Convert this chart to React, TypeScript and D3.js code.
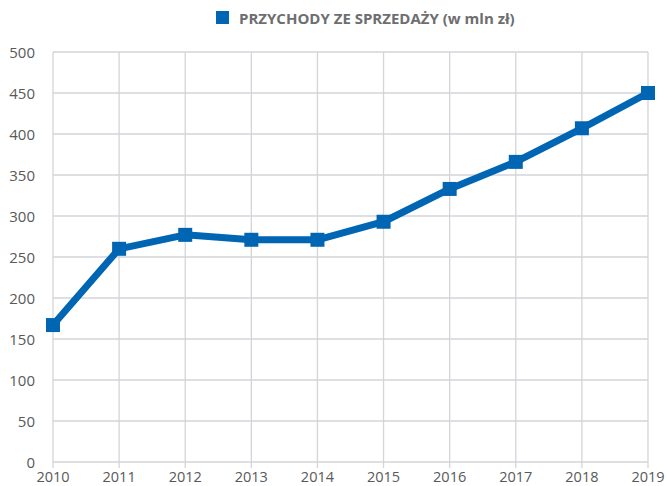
import { useEffect, useRef } from 'react'
import * as d3 from 'd3'

const years = ['2010', '2011', '2012', '2013', '2014', '2015', '2016', '2017', '2018', '2019']
const revenue = [167, 260, 277, 271, 271, 293, 333, 366, 407, 450]
const yTicks = [0, 50, 100, 150, 200, 250, 300, 350, 400, 450, 500]
const seriesName = 'PRZYCHODY ZE SPRZEDAŻY (w mln zł)'

const width = 667
const height = 486
const blue = '#0066b3'

export default function App() {
  const svgRef = useRef<SVGSVGElement>(null)

  useEffect(() => {
    if (!svgRef.current) return
    const svg = d3.select(svgRef.current)
    svg.selectAll('*').remove()

    const x = d3.scalePoint<string>().domain(years).range([53, 648])
    const y = d3.scaleLinear().domain([0, 500]).range([462, 52])

    const font = '"Open Sans", "Noto Sans", sans-serif'

    // grid
    svg.append('g')
      .selectAll('line')
      .data(yTicks)
      .join('line')
      .attr('x1', 53)
      .attr('x2', 648)
      .attr('y1', d => y(d))
      .attr('y2', d => y(d))
      .attr('stroke', '#d3d5d8')
      .attr('stroke-width', 1.3)

    svg.append('g')
      .selectAll('line')
      .data(years)
      .join('line')
      .attr('x1', d => x(d)!)
      .attr('x2', d => x(d)!)
      .attr('y1', 52)
      .attr('y2', 468)
      .attr('stroke', '#d3d5d8')
      .attr('stroke-width', 1.3)

    // y labels
    svg.append('g')
      .selectAll('text')
      .data(yTicks)
      .join('text')
      .attr('x', 35)
      .attr('y', d => y(d) + 5.5)
      .attr('text-anchor', 'end')
      .attr('font-family', font)
      .attr('font-size', 15)
      .attr('fill', '#595959')
      .text(d => d)

    // x labels
    svg.append('g')
      .selectAll('text')
      .data(years)
      .join('text')
      .attr('x', d => x(d)!)
      .attr('y', 482)
      .attr('text-anchor', 'middle')
      .attr('font-family', font)
      .attr('font-size', 14.5)
      .attr('fill', '#595959')
      .text(d => d)

    const pts = years.map((yr, i) => [x(yr)!, y(revenue[i])] as [number, number])

    svg.append('path')
      .attr('d', d3.line()(pts))
      .attr('fill', 'none')
      .attr('stroke', blue)
      .attr('stroke-width', 7)
      .attr('stroke-linejoin', 'round')

    const m = 14
    svg.append('g')
      .selectAll('rect')
      .data(pts)
      .join('rect')
      .attr('x', d => d[0] - m / 2)
      .attr('y', d => d[1] - m / 2)
      .attr('width', m)
      .attr('height', m)
      .attr('fill', blue)

    // legend
    svg.append('rect')
      .attr('x', 216)
      .attr('y', 11)
      .attr('width', 13)
      .attr('height', 13)
      .attr('fill', blue)
    svg.append('text')
      .attr('x', 239)
      .attr('y', 23.5)
      .attr('font-family', font)
      .attr('font-size', 15)
      .attr('font-weight', 'bold')
      .attr('fill', '#6d6e70')
      .text(seriesName)
  }, [])

  return (
    <svg
      ref={svgRef}
      width={width}
      height={height}
      style={{ position: 'absolute', left: 0, top: 0, background: '#fff' }}
    />
  )
}
